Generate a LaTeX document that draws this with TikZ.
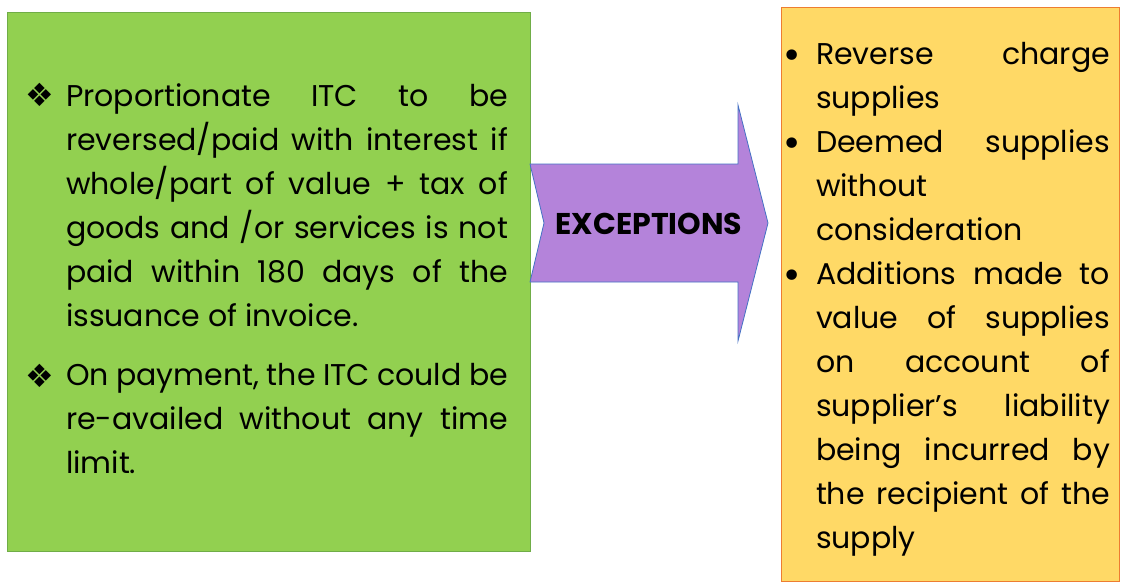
\documentclass[tikz,border=0pt]{standalone}
\usepackage{fontspec}
\setmainfont{Poppins}
\newfontfamily\symfont{DejaVu Sans}
\definecolor{greenfill}{HTML}{92D050}
\definecolor{greenline}{HTML}{70AD47}
\definecolor{yellowfill}{HTML}{FFD966}
\definecolor{orangeline}{HTML}{ED7D31}
\definecolor{purplefill}{HTML}{B483DA}
\definecolor{blueline}{HTML}{4472C4}
\tikzset{
  textpar/.style={anchor=base west, inner sep=0pt, outer sep=0pt},
  bulletmark/.style={inner sep=0pt, outer sep=0pt},
  diamondmark/.style={bulletmark, font=\symfont\fontsize{32}{36}\selectfont},
  dotmark/.style={bulletmark, anchor=base, font=\symfont\fontsize{36}{40}\selectfont},
}
\newcommand{\mytext}[2]{\parbox[t]{#1}{\fontsize{30}{44}\selectfont\tolerance=10000\hyphenpenalty=10000\exhyphenpenalty=10000\hbadness=10000 #2}}
\begin{document}
\begin{tikzpicture}[x=1pt,y=-1pt]
\useasboundingbox (0,0) rectangle (1121,584);
% left green box
\node[draw=greenline, fill=greenfill, line width=1pt, minimum width=523pt, minimum height=539pt, anchor=north west, inner sep=0pt] (left) at (6.5,11.5) {};
% right yellow box
\node[draw=orangeline, fill=yellowfill, line width=1pt, minimum width=338pt, minimum height=574pt, anchor=north west, inner sep=0pt] (right) at (780.5,6.5) {};
% arrow
\draw[fill=purplefill, draw=blueline, line width=0.8pt, line join=miter]
  (530,164) -- (738,164) -- (738,105) -- (768,223) -- (738,341) -- (738,282) -- (530,282) -- (544,223) -- cycle;
\node[inner sep=0pt, font=\fontsize{30}{34}\selectfont\bfseries] (exc) at (649,224) {EXCEPTIONS};
% left bullets
\node[diamondmark] (lb1) at (40,95) {❖};
\node[diamondmark] (lb2) at (40,376) {❖};
\node[textpar] (lt1) at (66,106) {\mytext{442pt}{Proportionate ITC to be\linebreak reversed/paid with interest if\linebreak whole/part of value + tax of\linebreak goods and /or services is not\linebreak paid within 180 days of the\linebreak issuance of invoice.}};
\node[textpar] (lt2) at (66,385) {\mytext{442pt}{On payment, the ITC could be\linebreak re-availed without any time\linebreak limit.}};
% right bullets
\node[dotmark] (rb1) at (792,68) {•};
\node[dotmark] (rb2) at (792,156) {•};
\node[dotmark] (rb3) at (792,288) {•};
\node[textpar] (rt1) at (816,64) {\mytext{294pt}{Reverse charge\linebreak supplies}};
\node[textpar] (rt2) at (816,152) {\mytext{294pt}{Deemed supplies\linebreak without\linebreak consideration}};
\node[textpar] (rt3) at (816,284) {\mytext{294pt}{Additions made to\linebreak value of supplies\linebreak on account of\linebreak supplier’s liability\linebreak being incurred by\linebreak the recipient of the\linebreak supply}};
\end{tikzpicture}
\end{document}
